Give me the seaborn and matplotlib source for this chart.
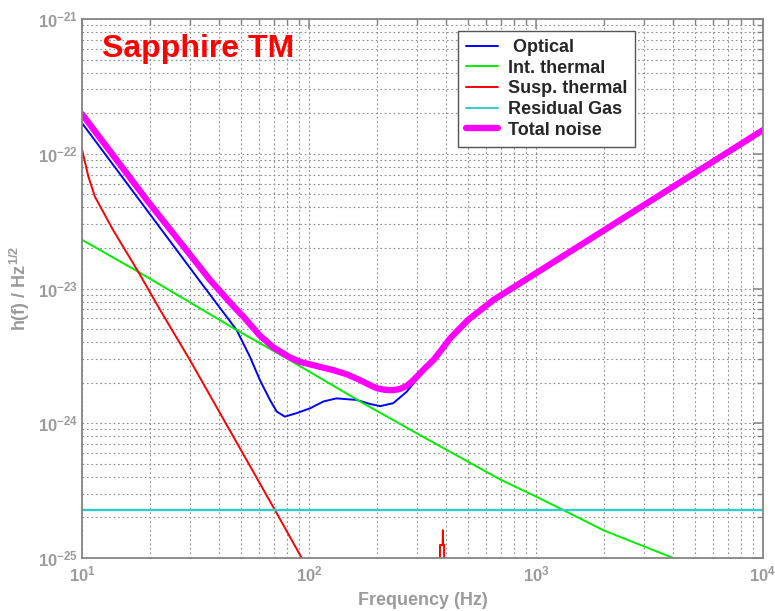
import numpy as np
import pandas as pd
import matplotlib
matplotlib.use("Agg")
import matplotlib.pyplot as plt
from matplotlib.lines import Line2D
from matplotlib.ticker import FixedLocator, NullFormatter
import seaborn as sns

# ---------------- data ----------------
freq_optical = [10, 33.1, 41.2, 48.0, 55.0, 60.8, 67.3, 72.1, 78.3, 88.3, 101,
                115.6, 132, 162, 186, 206, 235, 269, 319]
h_optical = [1.69e-22, 1.13e-23, 6.92e-24, 4.92e-24, 3.10e-24, 2.09e-24, 1.49e-24,
             1.22e-24, 1.12e-24, 1.19e-24, 1.29e-24, 1.45e-24, 1.53e-24, 1.49e-24, 1.39e-24,
             1.34e-24, 1.41e-24, 1.71e-24, 2.42e-24]

freq_int = [10, 17.7, 33.1, 48.0, 79.8, 173, 308, 693, 991, 1319, 1978, 4027]
h_int = [2.3e-23, 1.33e-23, 7.13e-24, 4.92e-24, 3.03e-24, 1.41e-24, 8.18e-25, 3.84e-25,
         2.88e-25, 2.27e-25, 1.61e-25, 1.0e-25]

freq_susp = [10, 10.3, 10.67, 11.4, 13.7, 17.7, 22.1, 29.9, 70.8, 92.9]
h_susp = [1.08e-22, 8.73e-23, 6.76e-23, 4.80e-23, 2.72e-23, 1.33e-23, 6.92e-24, 2.94e-24,
          2.27e-25, 1.0e-25]

freq_violin = [377.6, 377.6, 387.8, 388.9, 390.0, 393.6, 393.6]
h_violin = [5e-26, 1.25e-25, 1.25e-25, 1.61e-25, 1.25e-25, 1.25e-25, 5e-26]

freq_gas = [10, 10000]
h_gas = [2.27e-25, 2.27e-25]

freq_total = [10, 19.3, 36.6, 46.4, 51.4, 60.8, 69.6, 82.4, 91.2, 108, 128, 146.6, 168, 182,
              199, 216, 235, 252, 269, 283, 298, 324, 353, 385, 418, 501, 649, 1000, 10000]
h_total = [1.97e-22, 4.54e-23, 1.16e-23, 7.4e-24, 6.18e-24, 4.47e-24, 3.66e-24, 3.08e-24,
           2.86e-24, 2.66e-24, 2.48e-24, 2.31e-24, 2.09e-24, 1.95e-24, 1.82e-24, 1.77e-24,
           1.76e-24, 1.80e-24, 1.89e-24, 2.03e-24, 2.21e-24, 2.56e-24, 2.94e-24, 3.54e-24,
           4.26e-24, 5.83e-24, 8.22e-24, 1.30e-23, 1.50e-22]

labels = [" Optical", "Int. thermal", "Susp. thermal", "Residual Gas", "Total noise"]
title_text = "Sapphire TM"
x_major = [1e1, 1e2, 1e3, 1e4]
y_major = [1e-25, 1e-24, 1e-23, 1e-22, 1e-21]
x_tick_labels = [r"10$^{1}$", r"10$^{2}$", r"10$^{3}$", r"10$^{4}$"]
y_tick_labels = [r"10$^{-25}$", r"10$^{-24}$", r"10$^{-23}$", r"10$^{-22}$", r"10$^{-21}$"]

# ---------------- style ----------------
sns.set_style("white")
plt.rcParams.update({
    "font.family": ["Liberation Sans", "DejaVu Sans"],
    "font.weight": "bold",
    "mathtext.fontset": "custom",
    "mathtext.rm": "Liberation Sans:bold",
    "mathtext.it": "Liberation Sans:bold",
    "mathtext.bf": "Liberation Sans:bold",
    "mathtext.sf": "Liberation Sans:bold",
    "mathtext.default": "regular",
})

C_BLUE = "#0000ff"
C_GREEN = "#00ee00"
C_RED = "#ff0000"
C_CYAN = "#33cccc"
C_MAG = "#ff00ff"
GRAY = "#9a9a9a"
SPINE = "#858585"

fig = plt.figure(figsize=(7.75, 6.11), dpi=100)
ax = fig.add_axes([0.1058, 0.0867, 0.8787, 0.8822])
ax.set_xscale("log")
ax.set_yscale("log")

lw = 1.4
sns.lineplot(x=freq_optical, y=h_optical, ax=ax, color=C_BLUE, lw=lw, estimator=None, sort=False)
sns.lineplot(x=freq_int, y=h_int, ax=ax, color=C_GREEN, lw=lw, estimator=None, sort=False)
sns.lineplot(x=freq_susp, y=h_susp, ax=ax, color=C_RED, lw=lw, estimator=None, sort=False)
sns.lineplot(x=freq_violin, y=h_violin, ax=ax, color=C_RED, lw=lw, estimator=None, sort=False)
sns.lineplot(x=freq_gas, y=h_gas, ax=ax, color=C_CYAN, lw=1.7, estimator=None, sort=False)
sns.lineplot(x=freq_total, y=h_total, ax=ax, color=C_MAG, lw=4.5, estimator=None, sort=False,
             solid_capstyle="round", solid_joinstyle="round")

ax.set_xlim(10, 1e4)
ax.set_ylim(1e-25, 1e-21)

# explicit ticks inside the view
x_minor = [m * 10.0 ** e for e in range(1, 4) for m in range(2, 10)]
y_minor = [m * 10.0 ** e for e in range(-25, -21) for m in range(2, 10)]
ax.xaxis.set_major_locator(FixedLocator(x_major))
ax.yaxis.set_major_locator(FixedLocator(y_major))
ax.xaxis.set_minor_locator(FixedLocator(x_minor))
ax.yaxis.set_minor_locator(FixedLocator(y_minor))
ax.xaxis.set_minor_formatter(NullFormatter())
ax.yaxis.set_minor_formatter(NullFormatter())
ax.set_xticklabels(x_tick_labels)
ax.set_yticklabels(y_tick_labels)

# grid
ax.grid(True, which="both", linestyle=(0, (1.5, 2.5)), color="#8a8a8a", lw=0.8)
ax.set_axisbelow(True)

# spines and ticks
for s in ax.spines.values():
    s.set_color(SPINE)
    s.set_linewidth(1.3)
ax.tick_params(which="both", direction="in", top=True, right=True, color=SPINE,
               labelcolor=GRAY, labelsize=12)
ax.tick_params(which="major", length=7, width=1.1)
ax.tick_params(which="minor", length=4.5, width=1.0)
ax.tick_params(axis="x", which="major", pad=5)
ax.tick_params(axis="y", which="major", pad=3)

ax.set_xlabel("Frequency (Hz)", fontsize=13, color=GRAY, fontweight="bold")
ax.set_ylabel(r"h(f) / Hz$^{1/2}$", fontsize=13, color=GRAY, fontweight="bold")
ax.xaxis.set_label_coords(0.5, -0.063)
ax.yaxis.set_label_coords(-0.073, 0.5)

ax.text(0.029, 0.972, title_text, transform=ax.transAxes, color=C_RED, fontsize=23,
        fontweight="bold", va="top", ha="left")

handles = [
    Line2D([], [], color=C_BLUE, lw=1.4),
    Line2D([], [], color=C_GREEN, lw=1.4),
    Line2D([], [], color=C_RED, lw=1.4),
    Line2D([], [], color=C_CYAN, lw=1.4),
    Line2D([], [], color=C_MAG, lw=4.5),
]
leg = ax.legend(handles, labels, loc="upper left", bbox_to_anchor=(0.5526, 0.9777),
                bbox_transform=ax.transAxes, prop={"weight": "bold", "size": 13},
                frameon=True, fancybox=False, framealpha=1, edgecolor="#555555",
                borderpad=0.45, labelspacing=0.2, handlelength=1.75, handletextpad=0.55,
                borderaxespad=0)
leg.get_frame().set_linewidth(1.0)

fig.savefig("out.png", dpi=100)
